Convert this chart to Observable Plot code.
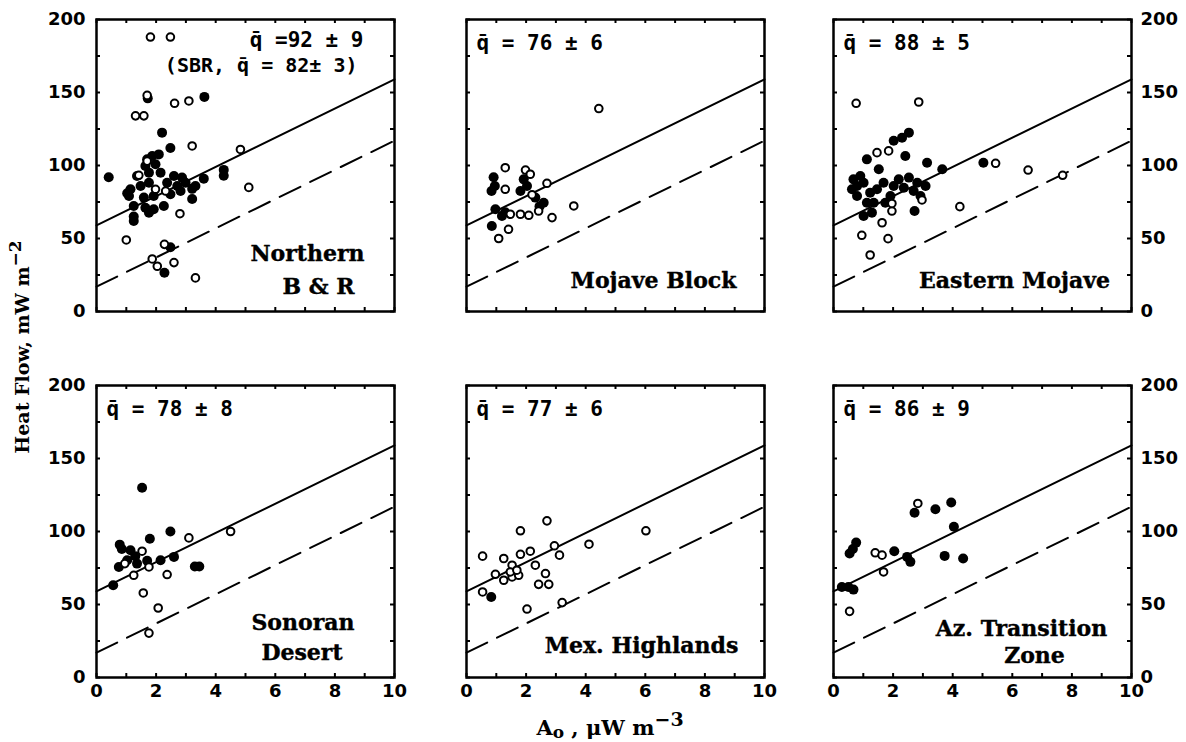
<!DOCTYPE html>
<html>
<head>
<meta charset="utf-8">
<script src="https://cdn.jsdelivr.net/npm/d3@7"></script>
<script src="https://cdn.jsdelivr.net/npm/@observablehq/plot@0.6"></script>
<style>
  body { margin: 0; background: #fff; }
  #fig { position: relative; width: 1186px; height: 742px; overflow: hidden; background: #fff; }
  #fig svg { position: absolute; }
  .title { position: absolute; font-family: "DejaVu Serif", serif; font-weight: bold; font-size: 19px; white-space: nowrap; color: #000; }
  .title sup { font-size: 17px; vertical-align: 0.45em; line-height: 0; }
  .title sub { font-size: 16px; vertical-align: -0.2em; line-height: 0; }
  #ytitle { left: 22px; top: 347px; transform: translate(-50%, -50%) rotate(-90deg); }
  #xtitle { left: 610px; top: 727px; transform: translate(-50%, -50%); font-size: 21px; }
  #xtitle sup { font-size: 19px; }
  #xtitle sub { font-size: 17px; }
</style>
</head>
<body>
<div id="fig">
  <div class="title" id="ytitle">Heat Flow, mW m<sup>−2</sup></div>
  <div class="title" id="xtitle">A<sub>o</sub> , μW m<sup>−3</sup></div>
</div>
<script>
// Heat flow q (mW m^-2) against surface heat production A0 (µW m^-3), by province.
// Filled and open symbols are the two classes of site.

// Northern Basin & Range
const nbrFilled = [[0.41,92],[1.03,81],[1.25,65],[1.25,62],[1.72,146],[2.20,122.5],[2.48,112],[3.62,147],
  [4.27,97],[4.27,93],[3.60,91],[3.21,84],[3.21,77],[3.32,86],[2.48,44],[2.28,26.6],
  [1.70,104.2],[1.87,106.5],[2.09,107.6],[1.64,99.7],[1.98,100.8],[1.36,92.8],[1.76,95.1],[2.15,95.1],
  [2.60,92.8],[2.87,91.7],[1.14,83.7],[1.48,86],[1.76,88.2],[2.37,88.2],[2.71,86],[2.99,88.2],
  [1.09,79.1],[1.59,78],[1.92,79.1],[2.48,80.3],[2.82,82.5],[1.25,72.3],[1.64,71.1],[1.92,70],
  [2.26,72.3],[1.76,67.7]];
const nbrOpen = [[1.81,188],[2.48,188],[1.70,148],[1.31,134],[1.59,134],[2.62,142.6],[3.10,144.2],
  [3.21,113.4],[4.83,111],[5.11,85],[2.80,67],[1.00,49],[2.28,46],[1.87,36],[2.04,31],[2.60,33.5],
  [3.32,23],[1.42,93.3],[1.98,83.7],[2.32,82.5],[1.70,103]];

// Mojave Block
const mbFilled = [[0.91,92],[0.84,82.5],[0.95,86],[1.92,90.5],[1.81,82.5],[2.03,86],[0.97,70],[1.19,65.4],
  [2.31,78],[2.59,74.5],[0.85,58.6],[1.30,68],[2.45,72]];
const mbOpen = [[4.44,139],[1.30,98.5],[1.30,83.7],[1.98,96.9],[2.14,94],[2.70,87.8],[1.47,66.6],
  [1.81,66.6],[2.09,65.9],[2.42,68.8],[2.87,64.3],[3.60,72.3],[1.08,50],[1.41,56.3],[2.20,80]];

// Eastern Mojave
const emFilled = [[2.02,117],[2.30,119],[2.53,122.5],[2.41,106.5],[1.12,104.2],[3.14,101.9],[3.65,97.4],
  [5.03,101.9],[2.72,68.8],[0.62,83.7],[0.67,90.5],[0.90,92.8],[0.79,79.1],[1.01,88.2],[1.12,74.5],
  [1.01,65.4],[1.29,67.7],[1.46,83.7],[1.52,97.4],[1.68,88.2],[2.02,86],[2.19,90.5],[2.53,91.7],
  [2.81,88.2],[3.09,86],[2.92,79.1],[1.23,81.4],[0.79,86],[1.35,74.5],[1.91,79.1],[1.74,74.5],
  [2.36,84.8],[2.69,82.5]];
const emOpen = [[0.76,142.6],[2.86,143.5],[1.46,108.8],[1.85,110],[5.44,101.5],[6.53,96.9],[7.69,93.3],
  [4.24,71.8],[2.97,76.4],[1.96,68.8],[1.63,60.8],[0.95,52.2],[1.83,49.9],[1.23,38.7],[1.96,74]];

// Sonoran Desert
const sdFilled = [[1.53,130],[2.48,100],[0.78,91],[0.85,88],[1.79,95],[1.14,87.2],[0.75,75.7],[1.03,80.3],
  [1.36,78],[2.15,80.3],[2.60,82.6],[3.30,76],[3.45,76],[0.56,63.2],[1.30,83],[1.70,80]];
const sdOpen = [[3.10,95.6],[4.50,100],[1.53,86.5],[1.76,75.7],[1.25,70],[2.37,70.5],[1.57,57.9],
  [2.07,47.6],[1.76,30.4],[0.95,78]];

// Mexican Highlands
const mhFilled = [[0.83,55.1]];
const mhOpen = [[2.70,107.3],[1.81,100.5],[6.02,100.5],[4.11,91.3],[2.95,90.2],[3.12,83.8],[0.54,83.1],
  [2.14,86.5],[1.81,84.4],[1.25,81.5],[1.53,76.9],[2.31,76.9],[0.97,70.7],[1.25,66.6],[1.53,68.9],
  [1.75,70],[1.47,72.3],[1.69,73.5],[2.65,71.2],[2.42,63.8],[2.76,63.8],[0.54,58.6],[2.03,46.9],[3.21,51.3]];

// Arizona Transition Zone
const azFilled = [[2.72,112.8],[3.42,115.3],[3.95,119.9],[4.04,103.2],[0.76,92.4],[0.54,84.9],[0.65,88],
  [2.04,86.5],[2.47,82.6],[2.58,79.2],[3.73,83.3],[4.35,81.5],[0.28,62],[0.50,62],[0.67,60.2]];
const azOpen = [[2.83,119.2],[1.40,85.4],[1.63,83.8],[1.68,72.3],[0.54,45.3]];

const regionNames = [["Northern", "B & R"], ["Mojave Block"], ["Eastern Mojave"],
  ["Sonoran", "Desert"], ["Mex. Highlands"], ["Az. Transition", "Zone"]];
const qbarLabels = [["q̄ =92 ± 9", "(SBR, q̄ = 82± 3)"], ["q̄ = 76 ± 6"], ["q̄ = 88 ± 5"],
  ["q̄ = 78 ± 8"], ["q̄ = 77 ± 6"], ["q̄ = 86 ± 9"]];
const filledSets = [nbrFilled, mbFilled, emFilled, sdFilled, mhFilled, azFilled];
const openSets = [nbrOpen, mbOpen, emOpen, sdOpen, mhOpen, azOpen];

// Reference lines q = q* + b·A0 (b = 10 km)
const reducedFlow = [59, 17];
const depthScale = 10;
const aRange = [0, 10];
const qRange = [0, 200];
const xLabelTicks = [0, 2, 4, 6, 8, 10];
const yLabelTicks = [0, 50, 100, 150, 200];
const xMinorTicks = d3.range(0, 11, 1);
const yMinorTicks = d3.range(0, 201, 25);

// Layout of the 2×3 grid (frame positions in px)
const W = 298, H = 292;
const ML = 70, MR = 70, MT = 20, MB = 40;
const TICK = 4;
const colLeft = [96, 466, 833];
const rowTop = [18.5, 384.5];

// Placement of the province names inside each frame: [dx from left, dy from bottom]
const nameSpots = [[[211, -51], [222, -17.5]], [[187, -24]], [[181, -23.5]],
  [[206.5, -47.5], [205.5, -17.5]], [[175, -24.5]], [[188, -42], [201, -15]]];

const fig = document.getElementById("fig");
const monoFont = {fontSize: 21, fontWeight: "bold", fontFamily: "DejaVu Sans Mono"};
const tickFont = {fontSize: 18, fontWeight: "bold", fontFamily: "DejaVu Sans"};

for (let i = 0; i < 6; i++) {
  const col = i % 3, row = Math.floor(i / 3);
  const lines = reducedFlow.map(q0 => aRange.map(a => ({a, q: q0 + depthScale * a})));

  const marks = [
    Plot.line(lines[0], {x: "a", y: "q", stroke: "black", strokeWidth: 2}),
    Plot.line(lines[1], {x: "a", y: "q", stroke: "black", strokeWidth: 2, strokeDasharray: "23,11"}),
    Plot.dot(filledSets[i], {x: d => d[0], y: d => d[1], r: 5, fill: "black", stroke: null}),
    Plot.dot(openSets[i], {x: d => d[0], y: d => d[1], r: 3.8, fill: "white", stroke: "black", strokeWidth: 2}),
    // short inward ticks on all four sides of the frame
    Plot.tickX(xMinorTicks, {x: d => d, insetTop: H - TICK, strokeWidth: 2}),
    Plot.tickX(xMinorTicks, {x: d => d, insetBottom: H - TICK, strokeWidth: 2}),
    Plot.tickY(yMinorTicks, {y: d => d, insetRight: W - TICK, strokeWidth: 2}),
    Plot.tickY(yMinorTicks, {y: d => d, insetLeft: W - TICK, strokeWidth: 2}),
    Plot.frame({stroke: "black", strokeWidth: 2.5})
  ];

  if (row === 1) {
    marks.push(Plot.axisX({anchor: "bottom", ticks: xLabelTicks, tickSize: 0, tickPadding: 7, label: null, ...tickFont}));
  }
  if (col === 0) {
    marks.push(Plot.axisY({anchor: "left", ticks: yLabelTicks, tickSize: 0, tickPadding: 11, label: null, ...tickFont}));
  }
  if (col === 2) {
    marks.push(Plot.axisY({anchor: "right", ticks: yLabelTicks, tickSize: 0, tickPadding: 9, label: null, ...tickFont}));
  }

  // mean heat flow annotation
  const qLines = qbarLabels[i];
  if (i === 0) {
    marks.push(Plot.text([qLines[0]], {text: d => d, frameAnchor: "top-right", dx: -31, dy: 27.5,
      textAnchor: "end", lineAnchor: "bottom", ...monoFont}));
    marks.push(Plot.text([qLines[1]], {text: d => d, frameAnchor: "top-right", dx: -37, dy: 52.5,
      textAnchor: "end", lineAnchor: "bottom", ...monoFont, fontSize: 20}));
  } else {
    marks.push(Plot.text([qLines[0]], {text: d => d, frameAnchor: "top-left", dx: 10, dy: 30,
      textAnchor: "start", lineAnchor: "bottom", ...monoFont}));
  }

  // province name
  regionNames[i].forEach((name, j) => {
    const [dx, dy] = nameSpots[i][j];
    marks.push(Plot.text([name], {text: d => d, frameAnchor: "bottom-left", dx, dy,
      textAnchor: "middle", lineAnchor: "bottom", fontSize: 22, fontWeight: "bold", fontFamily: "DejaVu Serif",
      fill: "black", stroke: "black", strokeWidth: 0.4}));
  });

  const svg = Plot.plot({
    width: W + ML + MR,
    height: H + MT + MB,
    marginLeft: ML, marginRight: MR, marginTop: MT, marginBottom: MB,
    x: {domain: aRange, axis: null},
    y: {domain: qRange, axis: null},
    style: {background: "transparent", overflow: "visible", color: "black", fontFamily: "DejaVu Sans"},
    marks
  });
  svg.style.left = (colLeft[col] - ML) + "px";
  svg.style.top = (rowTop[row] - MT) + "px";
  svg.style.maxWidth = "none";
  fig.appendChild(svg);
}
</script>
</body>
</html>
